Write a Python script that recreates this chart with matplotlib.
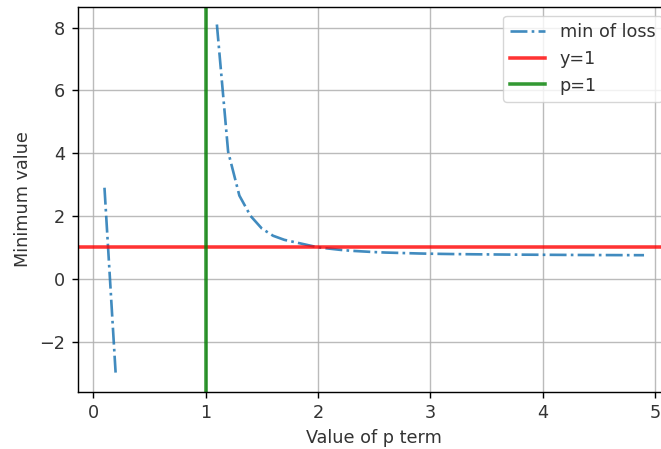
import numpy as np
import matplotlib
matplotlib.use("Agg")
import matplotlib.pyplot as plt

p_values = [round(0.1 * i, 1) for i in range(1, 50)]
min_loss = [2.9, -3.05, None, None, None, None, None, None, None, None,
            8.1, 4.05, 2.65, 2.0, 1.6, 1.37, 1.24, 1.16, 1.08, 1.0,
            0.96, 0.92, 0.89, 0.87, 0.85, 0.835, 0.825, 0.815, 0.805, 0.798,
            0.792, 0.787, 0.783, 0.779, 0.776, 0.773, 0.77, 0.768, 0.766, 0.764,
            0.762, 0.76, 0.758, 0.757, 0.755, 0.754, 0.753, 0.752, 0.751]
y_ref = 1
p_ref = 1

y = np.array([np.nan if v is None else v for v in min_loss], dtype=float)

s = 1.27
plt.rcParams.update({
    'font.size': 10 * s,
    'axes.linewidth': 0.8 * s,
    'xtick.major.size': 3.5 * s,
    'ytick.major.size': 3.5 * s,
    'xtick.major.width': 0.8 * s,
    'ytick.major.width': 0.8 * s,
    'xtick.major.pad': 3.5 * s,
    'ytick.major.pad': 3.5 * s,
    'axes.labelpad': 4 * s,
    'axes.labelcolor': '#333333',
    'xtick.labelcolor': '#333333',
    'ytick.labelcolor': '#333333',
    'text.color': '#333333',
})

fig = plt.figure(figsize=(6.61, 4.49), dpi=100)
ax = fig.add_axes([77.5 / 661, 57 / 449, (671 - 77.5) / 661, 385 / 449])
ax.plot(p_values, y, '-.', color='#1f77b4', alpha=0.85, lw=1.5 * s, label='min of loss')
ax.axhline(y_ref, color='red', alpha=0.8, lw=2 * s, label='y=1')
ax.axvline(p_ref, color='green', alpha=0.8, lw=2 * s, label='p=1')
ax.grid(True, color='#b0b0b0', lw=0.8 * s, alpha=0.85)
ax.set_xlabel('Value of p term')
ax.set_ylabel('Minimum value')
ax.set_xticks([0, 1, 2, 3, 4, 5])
ax.legend(loc='upper right')
fig.savefig('out.png', dpi=100)
